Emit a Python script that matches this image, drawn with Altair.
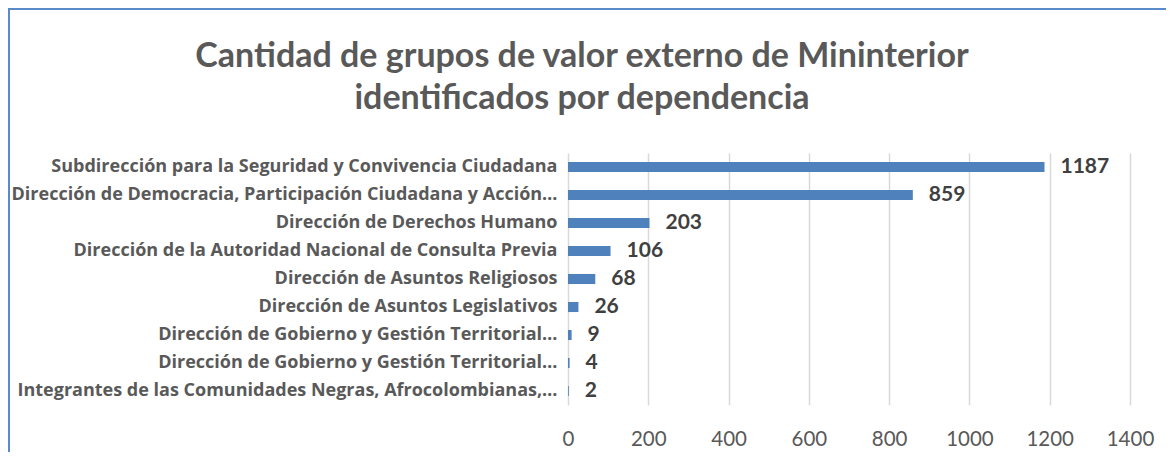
import altair as alt
import pandas as pd

categories = [
    "Subdirección para la Seguridad y Convivencia Ciudadana",
    "Dirección de Democracia, Participación Ciudadana y Acción…",
    "Dirección de Derechos Humano",
    "Dirección de la Autoridad Nacional de Consulta Previa",
    "Dirección de Asuntos Religiosos",
    "Dirección de Asuntos Legislativos",
    "Dirección de Gobierno y Gestión Territorial…",
    "Dirección de Gobierno y Gestión Territorial… ",
    "Integrantes de las Comunidades Negras, Afrocolombianas,…",
]
values = [1187, 859, 203, 106, 68, 26, 9, 4, 2]
x_ticks = [0, 200, 400, 600, 800, 1000, 1200, 1400]
title_lines = [
    "Cantidad de grupos de valor externo de Mininterior",
    "identificados por dependencia",
]

df = pd.DataFrame({"dep": categories, "n": values})

FONT = "Lato"
GREY = "#595959"

y_enc = alt.Y(
    "dep:N",
    sort=categories,
    scale=alt.Scale(paddingInner=0.64, paddingOuter=0.32),
    axis=alt.Axis(
        title=None,
        ticks=False,
        domain=False,
        labelLimit=0,
        labelFont="Open Sans",
        labelFontWeight="bold",
        labelFontSize=18,
        labelColor=GREY,
        labelPadding=11,
    ),
)
x_enc = alt.X(
    "n:Q",
    scale=alt.Scale(domain=[0, 1400], nice=False),
    axis=alt.Axis(
        title=None,
        values=x_ticks,
        format="d",
        ticks=False,
        domain=False,
        grid=True,
        gridColor="#D9D9D9",
        gridWidth=1.5,
        labelFlush=False,
        labelFont=FONT,
        labelFontSize=20.5,
        labelColor=GREY,
        labelPadding=24,
    ),
)

base = alt.Chart(df)
bars = base.mark_bar(color="#4F81BD").encode(x=x_enc, y=y_enc)
labels = base.mark_text(
    align="left", dx=16, font=FONT, fontSize=21, fontWeight="bold", color="#404040"
).encode(x="n:Q", y=alt.Y("dep:N", sort=categories), text="n:Q")

title1 = alt.Chart(pd.DataFrame({"t": [title_lines[0]]})).mark_text(
    font=FONT, fontSize=34, fontWeight="bold", color=GREY, align="center", baseline="alphabetic"
).encode(text="t:N", x=alt.value(14), y=alt.value(-86))
title2 = alt.Chart(pd.DataFrame({"t": [title_lines[1]]})).mark_text(
    font=FONT, fontSize=34, fontWeight="bold", color=GREY, align="center", baseline="alphabetic"
).encode(text="t:N", x=alt.value(14), y=alt.value(-44))

frame_df = pd.DataFrame({"a": [0]})
frame_top = alt.Chart(frame_df).mark_rule(color="#5B8ACB", strokeWidth=2).encode(
    x=alt.value(-560), x2=alt.value(600), y=alt.value(-144)
)
frame_left = alt.Chart(frame_df).mark_rule(color="#5B8ACB", strokeWidth=2).encode(
    x=alt.value(-559), y=alt.value(-145), y2=alt.value(300)
)

chart = (
    alt.layer(bars, labels, title1, title2, frame_top, frame_left)
    .properties(
        width=562,
        height=252,
        padding={"left": 560, "top": 145, "right": 36, "bottom": 47},
        autosize=alt.AutoSizeParams(type="none"),
        background="white",
    )
    .configure_view(stroke=None)
)

chart.save("out.html", embed_options={"renderer": "svg", "actions": False})
